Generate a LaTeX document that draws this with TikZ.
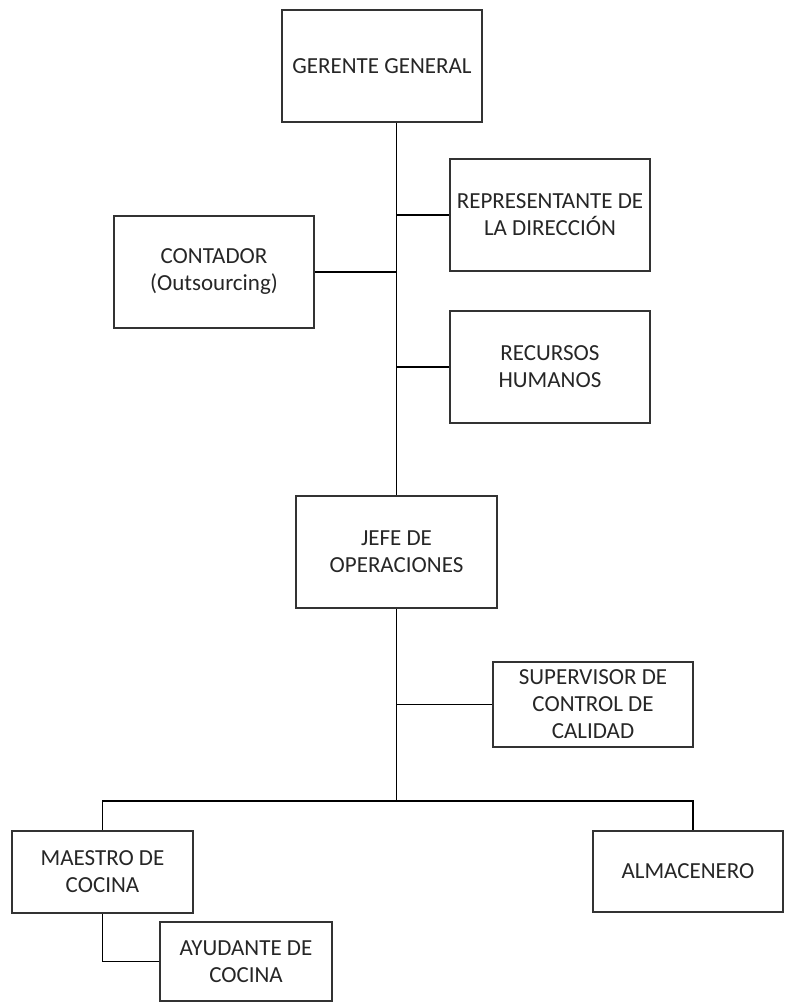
\documentclass[tikz,border=0pt]{standalone}
\usepackage{fontspec}
\setmainfont{Carlito}
\usepackage{tikz}

\tikzset{
  cargo/.style={draw=black!80, line width=0.9pt, align=center, inner sep=0pt,
    minimum width=100pt, minimum height=56pt, text=black!85, font=\fontsize{11.5}{13.5}\selectfont},
  linea/.style={draw=black, line width=0.8pt}
}

\begin{document}
\begin{tikzpicture}[x=0.5pt,y=-0.5pt]
	\useasboundingbox (0,0) rectangle (785,1003);
	\node[cargo] (gerente) at (382,66) {GERENTE GENERAL};
	\node[cargo] (representante) at (550,215) {REPRESENTANTE DE\\LA DIRECCIÓN};
	\node[cargo] (contador) at (214,272) {CONTADOR\\(Outsourcing)};
	\node[cargo] (recursos) at (550,367) {RECURSOS\\HUMANOS};
	\node[cargo,minimum width=100.5pt] (jefe) at (396.5,552) {JEFE DE\\OPERACIONES};
	\node[cargo,minimum height=42.5pt] (supervisor) at (593,704.5) {SUPERVISOR DE\\CONTROL DE\\CALIDAD};
	\node[cargo,minimum width=90.5pt,minimum height=41pt] (maestro) at (102.5,872) {MAESTRO DE\\COCINA};
	\node[cargo,minimum width=95pt,minimum height=40.5pt] (almacenero) at (688,871.5) {ALMACENERO};
	\node[cargo,minimum width=86pt,minimum height=39.5pt] (ayudante) at (246,961.5) {AYUDANTE DE\\COCINA};
	\coordinate (nudo) at (396.5,801);
	\draw[linea] (gerente.south -| jefe.north) -- (jefe.north);
	\draw[linea] (representante.west) -- (representante.west -| jefe.north);
	\draw[linea] (contador.east) -- (contador.east -| jefe.north);
	\draw[linea] (recursos.west) -- (recursos.west -| jefe.north);
	\draw[linea] (jefe.south) -- (nudo);
	\draw[linea] (supervisor.west) -- (supervisor.west -| jefe.south);
	\draw[linea] (maestro.north) |- (nudo) -| ([xshift=2.5pt]almacenero.north);
	\draw[linea] (maestro.south) |- (ayudante.west);
\end{tikzpicture}
\end{document}
